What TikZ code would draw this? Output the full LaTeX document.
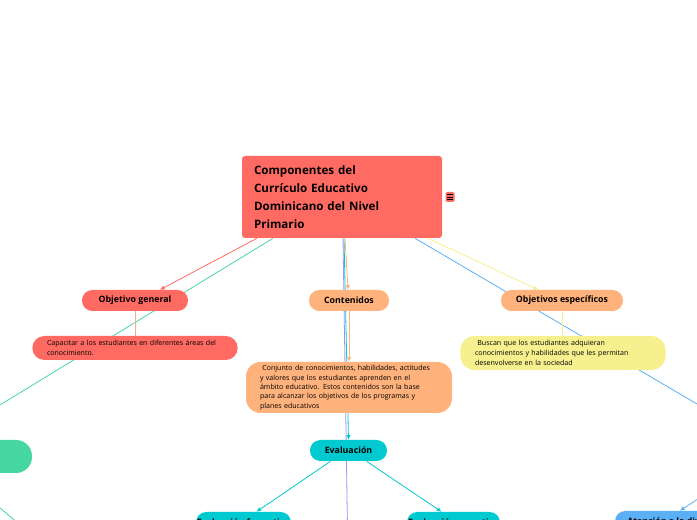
\documentclass[tikz,border=0pt]{standalone}
\usepackage{fontspec}
\setmainfont{Open Sans}
\usetikzlibrary{arrows.meta,positioning,calc,backgrounds}
\definecolor{mmred}{HTML}{FF6B63}
\definecolor{mmorange}{HTML}{FFB27C}
\definecolor{mmyellow}{HTML}{F6F08E}
\definecolor{mmcyan}{HTML}{00C9D0}
\definecolor{mmgreen}{HTML}{47D7A2}
\definecolor{mmblue}{HTML}{5AAFF5}
\definecolor{mmpurple}{HTML}{9D94F5}

\begin{document}
\begin{tikzpicture}[x=0.75pt, y=-0.75pt, >={Latex[length=3.5pt,width=3.5pt]},
  topic/.style={rounded corners=7.8pt, fill=#1, inner sep=0pt, minimum height=15.75pt, font=\bfseries\fontsize{6.6}{8}\selectfont},
  note/.style={rounded corners=11pt, fill=#1, align=left, inner xsep=11pt, inner ysep=0pt, text width=132pt, font=\fontsize{5.3}{7}\selectfont},
  link/.style={draw=#1, line width=0.6pt}]
  \useasboundingbox (0,0) rectangle (697,520);

  % central topic
  \node[fill=mmred, rounded corners=2.25pt, minimum width=150pt, minimum height=61.5pt, text width=132pt, inner xsep=9pt, align=left,
    font=\bfseries\fontsize{8.7}{13.5}\selectfont] (root) at (342,197) {Componentes del\\Currículo Educativo\\Dominicano del Nivel\\Primario};
  \node[fill=mmred, rounded corners=1pt, minimum width=6.75pt, minimum height=7.5pt, inner sep=0pt] (menu) at (450,197) {};
  \foreach \dy in {-2.5,0,2.5}
    \draw[line width=0.45pt] ($(menu.center)+(-2.6,\dy)$) -- ++(5.2,0);

  % main branches
  \node[topic=mmred, minimum width=79.5pt] (objg) at (135,300.5) {Objetivo general};
  \node[note=mmred, minimum height=18pt, rounded corners=9pt] (capac) at (135,348) {Capacitar a los estudiantes en diferentes áreas del\\conocimiento.};
  \node[topic=mmorange, minimum width=60pt] (cont) at (349,300.5) {Contenidos};
  \node[note=mmorange, minimum height=38.25pt, inner xsep=10.5pt, text width=133.5pt] (conj) at (349,387.5) {\ Conjunto de conocimientos, habilidades, actitudes\\y valores que los estudiantes aprenden en el\\ámbito educativo. Estos contenidos son la base\\para alcanzar los objetivos de los programas y\\planes educativos};
  \node[topic=mmorange, minimum width=91.5pt] (objesp) at (562,300.5) {Objetivos específicos};
  \node[note=mmyellow, minimum height=25.5pt, font=\fontsize{5.3}{7.5}\selectfont] (busc) at (563,353) {\ Buscan que los estudiantes adquieran\\conocimientos y habilidades que les permitan\\desenvolverse en la sociedad};
  \node[topic=mmcyan, minimum width=57.75pt] (eval) at (348.5,450.5) {Evaluación};
  \node[topic=mmcyan, minimum width=71.25pt] (evform) at (243.5,522.5) {Evaluación formativa};
  \node[topic=mmcyan, minimum width=69.75pt] (evsum) at (453.5,522.5) {Evaluación sumativa};
  \node[topic=mmblue, minimum width=97.5pt] (aten) at (680,521.5) {Atención a la diversidad};
  \node[fill=mmgreen, rounded corners=12pt, minimum width=97.5pt, minimum height=24.75pt] (green) at (-33,456.5) {};

  % branch ends outside the page
  \coordinate (purp) at (348,560);
  \coordinate (bluein) at (760,441);
  \coordinate (blueout) at (730,478);
  \coordinate (gchild) at (38,540);

  \begin{scope}[on background layer]
    \draw[link=mmred, ->] ($(root.south)+(-85,0)$) -- ($(objg.north)+(25,0)$);
    \draw[link=mmgreen] ($(root.south)+(-69,0)$) -- ($(green.north)+(-24,0)$);
    \draw[link=mmpurple] ($(root.south)+(1,0)$) -- (purp);
    \draw[link=mmcyan, ->] ($(root.south)+(2,0)$) -- (eval.north);
    \draw[link=mmorange, ->] ($(root.south)+(3,0)$) -- ($(cont.north)+(-1,0)$);
    \draw[link=mmblue] ($(root.south)+(73,0)$) -- (bluein);
    \draw[link=mmyellow, ->] ($(root.south)+(86,0)$) -- ($(objesp.north)+(-24,0)$);
    \draw[link=mmred!60] (objg) -- (capac);
    \draw[link=mmorange, ->] (cont) -- (conj);
    \draw[link=mmyellow] (objesp.south) -- (objesp.south |- busc.north);
    \draw[link=mmcyan, ->] ($(eval.south)+(-18,0)$) -- ($(evform.north)+(13,0)$);
    \draw[link=mmcyan, ->] ($(eval.south)+(18,0)$) -- ($(evsum.north)+(-12,0)$);
    \draw[link=mmgreen] ($(green.south)+(-8,0)$) -- (gchild);
    \draw[link=mmblue, ->] (blueout) -- (aten.north);
  \end{scope}
\end{tikzpicture}
\end{document}
